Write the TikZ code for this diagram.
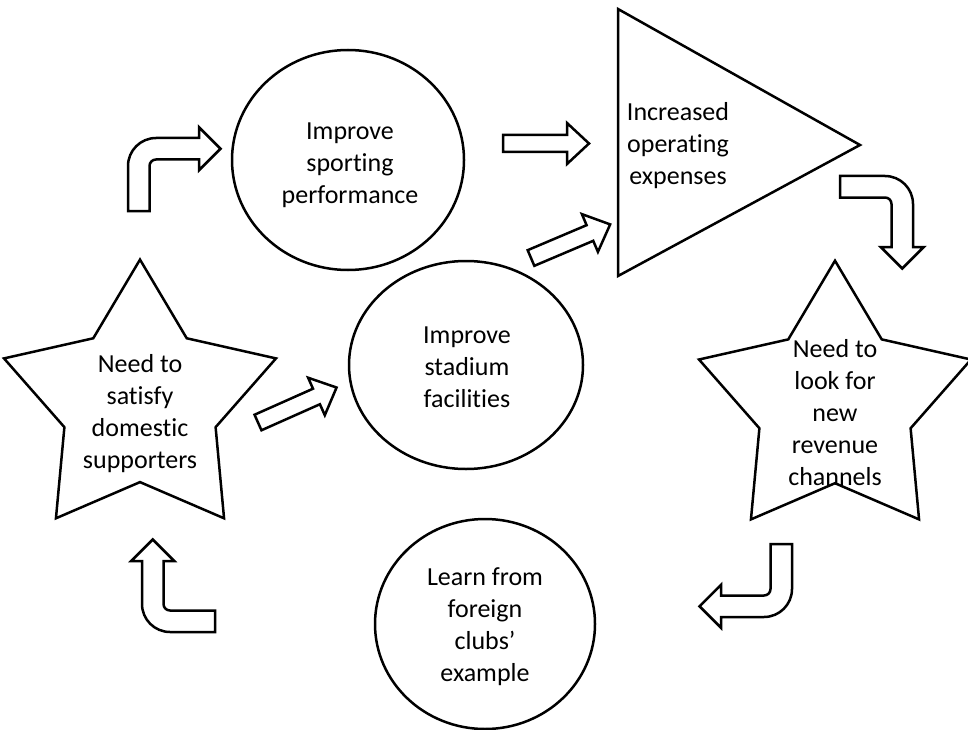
\documentclass[tikz,border=0pt]{standalone}
\usepackage{fontspec}
\setmainfont{Carlito}[Ligatures=NoCommon]
\usetikzlibrary{shapes.geometric}
\tikzset{
  outline/.style={draw=black, line width=2.5pt, line join=miter, fill=white},
  label/.style={font=\fontsize{26}{32}\selectfont, align=center, inner sep=0pt},
  bentarrow/.pic={
    \draw[outline] (0,-73) -- (21.5,-73) -- (21.5,-28)
      arc[start angle=180, end angle=90, radius=6.5] -- (71,-21.5)
      -- (71,-32.25) -- (92.5,-10.75) -- (71,10.75) -- (71,0) -- (28,0)
      arc[start angle=90, end angle=180, radius=28] -- cycle;
  },
  blockarrow/.pic={
    \draw[outline] (0,-8.5) -- (64,-8.5) -- (64,-20.5) -- (86,0)
      -- (64,20.5) -- (64,8.5) -- (0,8.5) -- cycle;
  },
  starpic/.pic={
    \draw[outline] (90:143) -- (54:79.5) -- (18:143) -- (342:79.5)
      -- (306:143) -- (270:79.5) -- (234:143) -- (198:79.5)
      -- (162:143) -- (126:79.5) -- cycle;
  }
}
\begin{document}
\begin{tikzpicture}[x=1pt, y=1pt]
\fill[white] (0,0) rectangle (968,-730);
\useasboundingbox (0,0) rectangle (968,-730);

% shapes
\node[outline, ellipse, minimum width=232pt, minimum height=220pt, inner sep=0pt] (sport) at (348,-160) {};
\node[outline, ellipse, minimum width=234pt, minimum height=208pt, inner sep=0pt] (stadium) at (466,-365) {};
\node[outline, ellipse, minimum width=220pt, minimum height=210pt, inner sep=0pt] (learn) at (485,-624) {};
\draw[outline] (618,-9) -- (618,-276) -- (860,-145) -- cycle;
\pic at (140,-402.6) {starpic};
\pic at (835,-403.7) {starpic};

% bent arrows
\pic at (128,-138) {bentarrow};
\pic[rotate=90] at (142,-632) {bentarrow};
\pic[rotate=-90] at (913,-176) {bentarrow};
\pic[rotate=180] at (792,-617) {bentarrow};

% straight block arrows
\pic at (503,-143.5) {blockarrow};
\pic[rotate=23] at (531,-258) {blockarrow};
\pic[rotate=24] at (258,-422.5) {blockarrow};

% texts
\node[label] (tsport) at (350,-165) {Improve\\sporting\\performance};
\node[label] (tstadium) at (467,-367) {Improve\\stadium\\facilities};
\node[label] (tlearn) at (485,-627) {Learn from\\foreign\\clubs’\\example};
\node[label] (texp) at (678,-146) {Increased\\operating\\expenses};
\node[label] (tdom) at (140,-414) {Need to\\satisfy\\domestic\\supporters};
\node[label] (trev) at (835,-413) {Need to\\look for\\new\\revenue\\channels};
\end{tikzpicture}
\end{document}
